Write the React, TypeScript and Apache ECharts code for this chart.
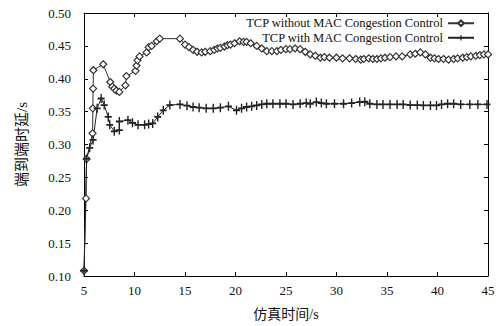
import React, { useEffect, useRef } from "react";
import * as echarts from "echarts";

const withoutX = [5, 5.2, 5.26, 5.85, 5.88, 5.9, 5.93, 6.9, 7.6, 7.8, 8.0, 8.2, 8.5, 9.1, 9.2, 10.1, 10.2, 10.3, 10.5, 11.2, 11.4, 11.7, 12.2, 12.5, 14.5, 15.0, 15.4, 15.8, 16.2, 16.65, 17.0, 17.5, 17.9, 18.2, 18.5, 18.9, 19.2, 19.5, 19.9, 20.4, 20.8, 21.1, 21.5, 22.1, 22.6, 23.1, 23.6, 24.1, 24.5, 25.0, 25.4, 25.9, 26.4, 26.9, 27.4, 27.9, 28.4, 28.8, 29.3, 30.0, 30.6, 31.3, 31.9, 32.4, 32.7, 33.2, 33.6, 34.0, 34.4, 34.8, 35.3, 35.9, 36.5, 37.3, 37.8, 38.3, 38.8, 39.3, 39.7, 40.1, 40.6, 41.1, 41.6, 42.0, 42.5, 42.9, 43.3, 43.8, 44.2, 44.6, 45];
const withoutY = [0.108, 0.218, 0.278, 0.317, 0.355, 0.385, 0.413, 0.422, 0.395, 0.388, 0.385, 0.382, 0.380, 0.390, 0.404, 0.412, 0.420, 0.428, 0.434, 0.440, 0.448, 0.450, 0.457, 0.461, 0.461, 0.452, 0.448, 0.444, 0.441, 0.440, 0.441, 0.442, 0.444, 0.446, 0.447, 0.449, 0.451, 0.452, 0.454, 0.457, 0.456, 0.456, 0.454, 0.450, 0.446, 0.442, 0.442, 0.442, 0.444, 0.445, 0.445, 0.446, 0.445, 0.441, 0.437, 0.435, 0.432, 0.433, 0.432, 0.432, 0.431, 0.431, 0.430, 0.429, 0.430, 0.431, 0.430, 0.430, 0.431, 0.432, 0.433, 0.434, 0.434, 0.437, 0.438, 0.440, 0.437, 0.432, 0.431, 0.430, 0.430, 0.429, 0.430, 0.431, 0.432, 0.433, 0.434, 0.435, 0.436, 0.437, 0.437];

const withX = [5, 5.25, 5.56, 5.9, 6.3, 6.7, 7.0, 7.4, 7.55, 8.0, 8.5, 8.5, 9.35, 9.8, 10.35, 11.0, 11.4, 11.8, 12.3, 12.85, 13.5, 14.5, 15.2, 15.8, 16.4, 17.1, 17.8, 18.5, 19.3, 20.1, 20.6, 21.1, 21.6, 22.1, 22.6, 23.1, 23.7, 24.4, 25.0, 25.7, 26.4, 27.0, 27.4, 28.0, 28.5, 29.0, 29.8, 30.7, 31.5, 32.3, 32.8, 33.3, 34.0, 34.6, 35.3, 36.0, 36.6, 37.3, 38.0, 38.6, 39.3, 39.9, 40.4, 41.0, 41.6, 42.3, 43.2, 44.0, 44.9];
const withY = [0.108, 0.278, 0.295, 0.307, 0.355, 0.370, 0.360, 0.342, 0.330, 0.320, 0.322, 0.335, 0.337, 0.333, 0.330, 0.330, 0.331, 0.332, 0.342, 0.352, 0.360, 0.361, 0.359, 0.357, 0.356, 0.355, 0.355, 0.356, 0.358, 0.352, 0.355, 0.357, 0.358, 0.3595, 0.361, 0.362, 0.362, 0.362, 0.362, 0.361, 0.362, 0.363, 0.362, 0.3645, 0.363, 0.362, 0.362, 0.362, 0.363, 0.3645, 0.365, 0.362, 0.361, 0.361, 0.361, 0.361, 0.361, 0.360, 0.360, 0.3595, 0.3595, 0.3595, 0.361, 0.362, 0.362, 0.361, 0.361, 0.361, 0.361];

const seriesNames = ["TCP without MAC Congestion Control", "TCP with MAC Congestion Control"];
const xName = "仿真时间/s";
const yName = "端到端时延/s";

const FONT = "'Liberation Serif', 'Noto Sans CJK SC', serif";
const PLUS = "path://M4,0H6V4H10V6H6V10H4V6H0V4H4Z";

export default function App() {
  const ref = useRef<HTMLDivElement>(null);
  useEffect(() => {
    if (!ref.current) return;
    const chart = echarts.init(ref.current, undefined, { renderer: "svg" });
    const pairs = (xs: number[], ys: number[]) => xs.map((x, i) => [x, ys[i]]);
    const axisCommon = {
      axisLine: { show: true, lineStyle: { color: "#000", width: 1 } },
      axisTick: { show: true, inside: true, length: 4, lineStyle: { color: "#000" } },
      splitLine: { show: false },
    };
    chart.setOption({
      animation: false,
      backgroundColor: "#fff",
      grid: { left: 84, right: 14, top: 13, bottom: 48, show: false },
      legend: {
        orient: "vertical",
        right: 22,
        top: 12,
        align: "right",
        itemGap: 2,
        itemWidth: 26,
        itemHeight: 7,
        textStyle: { fontFamily: FONT, fontSize: 12.5, color: "#111" },
        data: seriesNames,
      },
      xAxis: [
        {
          type: "value",
          min: 5,
          max: 45,
          interval: 5,
          name: xName,
          nameLocation: "middle",
          nameGap: 31,
          nameTextStyle: { fontFamily: FONT, fontSize: 14, color: "#111" },
          axisLabel: { fontFamily: FONT, fontSize: 13, color: "#111", margin: 8 },
          ...axisCommon,
        },
        {
          type: "value",
          position: "top",
          min: 5,
          max: 45,
          interval: 5,
          axisLabel: { show: false },
          ...axisCommon,
        },
      ],
      yAxis: [
        {
          type: "value",
          min: 0.1,
          max: 0.5,
          interval: 0.05,
          name: yName,
          nameLocation: "middle",
          nameGap: 55,
          nameRotate: 90,
          nameTextStyle: { fontFamily: FONT, fontSize: 15, color: "#111" },
          axisLabel: {
            fontFamily: FONT,
            fontSize: 13,
            color: "#111",
            margin: 13,
            formatter: (v: number) => v.toFixed(2),
          },
          ...axisCommon,
        },
        {
          type: "value",
          position: "right",
          min: 0.1,
          max: 0.5,
          interval: 0.05,
          axisLabel: { show: false },
          ...axisCommon,
        },
      ],
      series: [
        {
          name: seriesNames[0],
          type: "line",
          data: pairs(withoutX, withoutY),
          symbol: "diamond",
          symbolSize: [7, 7],
          showAllSymbol: true,
          lineStyle: { color: "#333", width: 1 },
          itemStyle: { color: "#fff", borderColor: "#333", borderWidth: 1.2 },
        },
        {
          name: seriesNames[1],
          type: "line",
          data: pairs(withX, withY),
          symbol: PLUS,
          symbolSize: [7, 9],
          showAllSymbol: true,
          lineStyle: { color: "#222", width: 1 },
          itemStyle: { color: "#222", borderWidth: 0 },
        },
      ],
    });
    return () => chart.dispose();
  }, []);
  return <div ref={ref} style={{ width: 502, height: 326, position: "absolute", left: 0, top: 0 }} />;
}
